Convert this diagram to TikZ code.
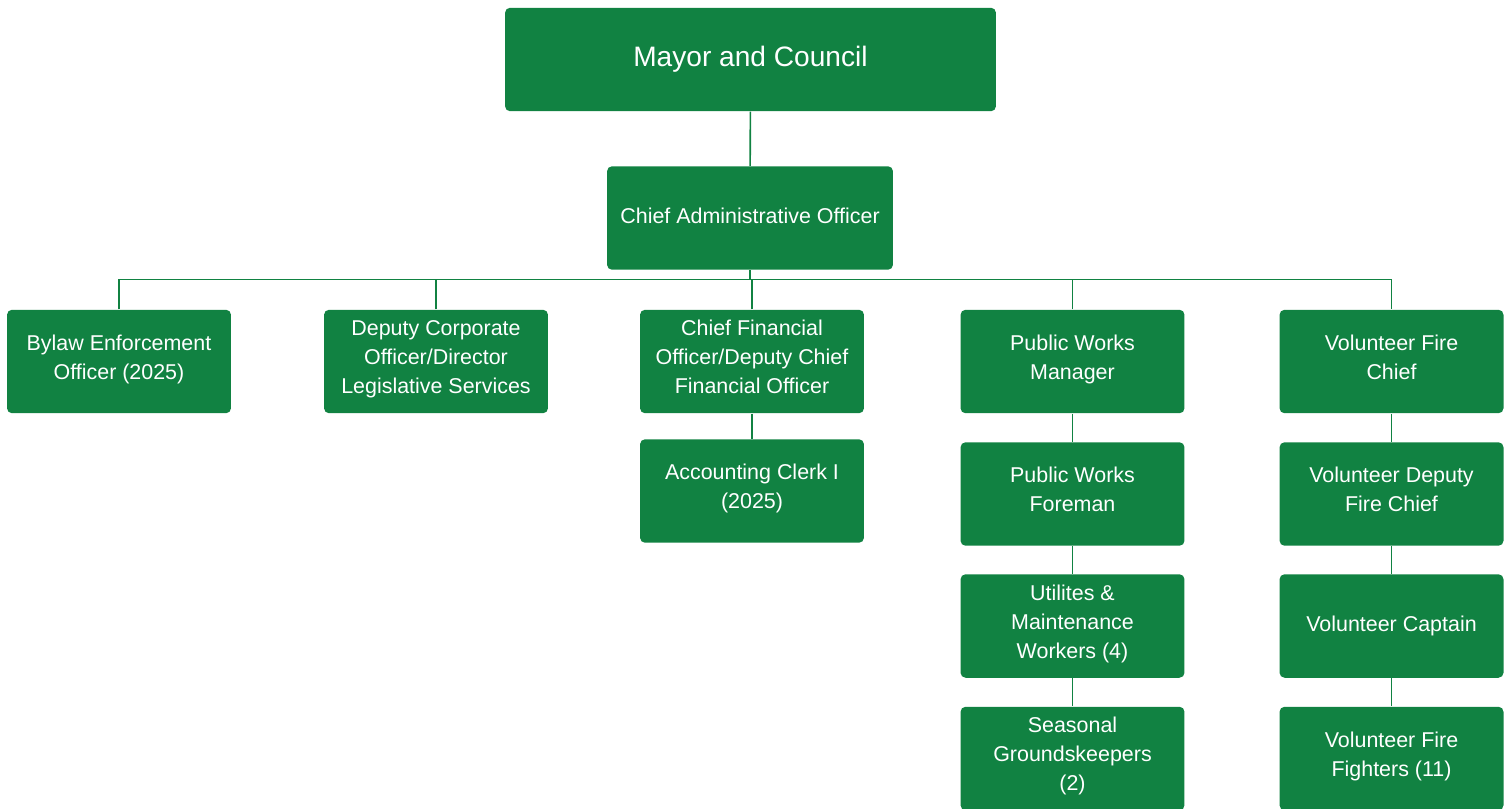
\documentclass[tikz,border=0pt]{standalone}
\usepackage{fontspec}
\setmainfont{Liberation Sans}
\usepackage{tikz}
\definecolor{boxgreen}{RGB}{17,130,66}

\begin{document}
\begin{tikzpicture}[x=0.02cm,y=-0.02cm,
        post/.style={fill=boxgreen,rounded corners=0.1cm,text=white,align=center,
            inner sep=0pt,minimum width=4.48cm,minimum height=2.07cm,
            font=\fontsize{12.2}{16.5}\selectfont,
            execute at begin node=\strut,execute at end node=\strut},
        link/.style={draw=boxgreen,line width=0.9pt}]
        \useasboundingbox (0,0) rectangle (1510,808);

        \node[post,minimum width=9.82cm,font=\fontsize{16}{19}\selectfont] (mayor) at (750.5,59.5) {Mayor and Council};
        \node[post,minimum width=5.72cm] (cao) at (750,218) {Chief Administrative Officer};

        % first row
        \node[post] (bylaw) at (119,361.5) {Bylaw Enforcement\\Officer (2025)};
        \node[post] (deputy) at (436,361.5) {Deputy Corporate\\Officer/Director\\Legislative Services};
        \node[post] (cfo) at (752,361.5) {Chief Financial\\Officer/Deputy Chief\\Financial Officer};
        \node[post] (pwm) at (1072.5,361.5) {Public Works\\Manager};
        \node[post] (fire) at (1391.5,361.5) {Volunteer Fire\\Chief};

        % under the first row
        \node[post] (clerk) at (752,491) {Accounting Clerk I\\(2025)};
        \node[post] (foreman) at (1072.5,494) {Public Works\\Foreman};
        \node[post] (utility) at (1072.5,626) {Utilites \&\\Maintenance\\Workers (4)};
        \node[post] (seasonal) at (1072.5,758.5) {Seasonal\\Groundskeepers\\(2)};
        \node[post] (depfire) at (1391.5,494) {Volunteer Deputy\\Fire Chief};
        \node[post] (captain) at (1391.5,626) {Volunteer Captain};
        \node[post] (fighters) at (1391.5,758.5) {Volunteer Fire\\Fighters (11)};

        \coordinate (bus) at (750,280);
        \draw[link] (mayor) -- (cao);
        \draw[link] (cao.south) -- (cao.south |- bus);
        \draw[link] (bylaw.north) -- ++(0,-30) -| (fire.north);
        \foreach \n in {deputy,cfo,pwm}
            \draw[link] (\n.north) -- (\n.north |- bus);
        \draw[link] (cfo) -- (clerk);
        \draw[link] (pwm) -- (foreman);
        \draw[link] (foreman) -- (utility);
        \draw[link] (utility) -- (seasonal);
        \draw[link] (fire) -- (depfire);
        \draw[link] (depfire) -- (captain);
        \draw[link] (captain) -- (fighters);
\end{tikzpicture}
\end{document}
